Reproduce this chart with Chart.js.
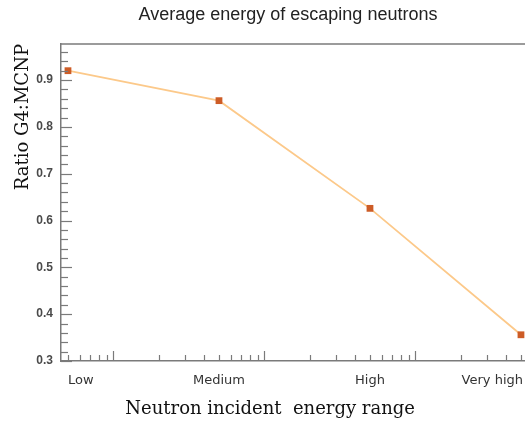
<!DOCTYPE html>
<html>
<head>
<meta charset="utf-8">
<script src="https://cdn.jsdelivr.net/npm/chart.js@4"></script>
<style>
  html, body { margin: 0; padding: 0; background: #fff; }
  #wrap { width: 525px; height: 424px; }
</style>
</head>
<body>
<div id="wrap"><canvas id="myChart" width="525" height="424"></canvas></div>
<script>
const categories = ['Low', 'Medium', 'High', 'Very high'];
const ratios = [0.920, 0.856, 0.626, 0.356];
const yMajorTicks = [0.3, 0.4, 0.5, 0.6, 0.7, 0.8, 0.9];

// each energy range sits mid-decade on a log axis (5, 50, 500, 5000)
const points = categories.map((c, i) => ({ x: 5 * Math.pow(10, i), y: ratios[i] }));

const axisGray = '#7a7a7a';

// inward ticks, top frame line and the category labels
const decorations = {
    id: 'decorations',
    afterDraw(chart) {
        const ctx = chart.ctx;
        const area = chart.chartArea;
        const xs = chart.scales.x;
        const ys = chart.scales.y;
        ctx.save();
        ctx.strokeStyle = axisGray;
        ctx.lineWidth = 1.5;

        // top frame
        ctx.beginPath();
        ctx.moveTo(area.left, area.top);
        ctx.lineTo(area.right, area.top);
        ctx.stroke();

        // y ticks every 0.02, longer at each 0.1
        ctx.lineWidth = 1.2;
        for (let k = 15; k <= 48; k++) {
            const v = k / 50;
            if (v > ys.max) break;
            const py = Math.round(ys.getPixelForValue(v)) + 0.5;
            const len = k % 5 === 0 ? 11 : 7;
            ctx.beginPath();
            ctx.moveTo(area.left, py);
            ctx.lineTo(area.left + len, py);
            ctx.stroke();
        }

        // x log ticks
        for (let n = 0; n <= 3; n++) {
            for (let k = 1; k <= 9; k++) {
                const v = k * Math.pow(10, n);
                if (v < xs.min || v > xs.max) continue;
                const px = Math.round(xs.getPixelForValue(v)) + 0.5;
                const len = k === 1 ? 10 : 6;
                ctx.beginPath();
                ctx.moveTo(px, area.bottom);
                ctx.lineTo(px, area.bottom - len);
                ctx.stroke();
            }
        }

        // category labels, kept inside the canvas
        ctx.fillStyle = '#333';
        ctx.font = '13px "DejaVu Sans"';
        ctx.textBaseline = 'middle';
        ctx.textAlign = 'left';
        points.forEach((p, i) => {
            const px = xs.getPixelForValue(p.x);
            const w = ctx.measureText(categories[i]).width;
            let left = px - w / 2;
            left = Math.max(left, area.left + 7);
            left = Math.min(left, chart.width - 2 - w);
            ctx.fillText(categories[i], left, area.bottom + 20);
        });
        ctx.restore();
    }
};

const config = {
    type: 'line',
    data: {
        datasets: [{
            data: points,
            borderColor: '#fcc98a',
            borderWidth: 1.8,
            backgroundColor: '#cd5c26',
            pointStyle: 'rect',
            pointRadius: 4.8,
            pointBorderWidth: 0,
            pointBorderColor: '#cd5c26',
            tension: 0,
            clip: false
        }]
    },
    options: {
        responsive: false,
        animation: false,
        layout: { padding: 0, autoPadding: false },
        plugins: {
            legend: { display: false },
            tooltip: { enabled: false },
            title: {
                display: true,
                text: 'Average energy of escaping neutrons  ',
                fullSize: false,
                color: '#222',
                font: { family: '"Liberation Sans", Arial, sans-serif', size: 18, weight: 'normal' },
                padding: { top: 4, bottom: 18.4 }
            }
        },
        scales: {
            x: {
                type: 'logarithmic',
                min: 4.495,
                max: 5317,
                grid: { display: false, drawTicks: false },
                border: { display: true, color: axisGray, width: 1.5 },
                ticks: { display: false },
                title: {
                    display: true,
                    text: 'Neutron incident  energy range        ',
                    color: '#111',
                    font: { family: '"DejaVu Serif", serif', size: 18 },
                    padding: { top: 0, bottom: 4 }
                },
                afterFit(scale) { scale.height = 63; }
            },
            y: {
                min: 0.3,
                max: 0.977,
                grid: { display: false, drawTicks: false },
                border: { display: true, color: axisGray, width: 1.5 },
                afterBuildTicks(scale) {
                    scale.ticks = yMajorTicks.map(v => ({ value: v }));
                },
                ticks: {
                    padding: 8,
                    color: '#4a4a4a',
                    font: { family: '"Liberation Sans", Arial, sans-serif', size: 12, weight: 'bold' },
                    callback: v => v.toFixed(1)
                },
                title: {
                    display: true,
                    text: 'Ratio G4:MCNP',
                    align: 'end',
                    color: '#111',
                    font: { family: '"DejaVu Serif", serif', size: 18 },
                    padding: { top: 13, bottom: 0 }
                },
                afterFit(scale) { scale.width = 61; }
            }
        }
    },
    plugins: [decorations]
};

const ctx = document.getElementById('myChart').getContext('2d');
const myChart = new Chart(ctx, config);
</script>
</body>
</html>
